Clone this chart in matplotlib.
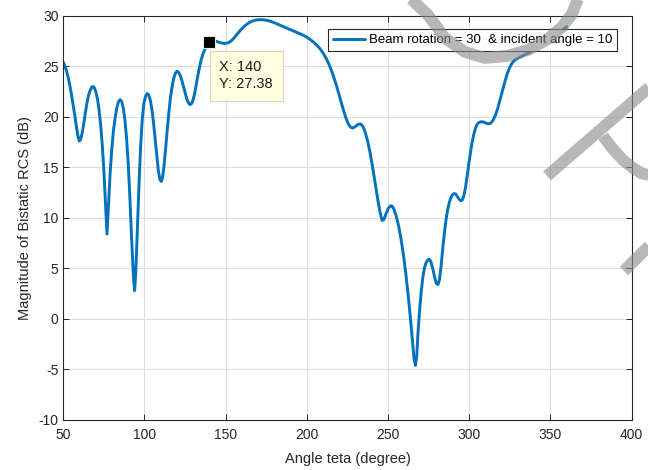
import numpy as np
import matplotlib
matplotlib.use("Agg")
import matplotlib.pyplot as plt
from matplotlib.lines import Line2D

# bistatic RCS (angle in degrees, magnitude in dB)
angle = [50, 51, 52, 53, 54, 55, 56, 57, 58, 59, 59.8, 60.5, 61.5, 62.5, 63.5, 64.5, 65.5, 66.5,
         67.5, 68.3, 69, 70, 71, 72, 73, 74, 75, 76, 76.9, 77.8, 78.8, 79.8, 80.8, 82, 83, 84,
         85, 86, 87, 88, 89, 90, 91, 92, 93.2, 93.9, 94.6, 95.6, 96.6, 97.6, 98.6, 99.6, 100.6,
         101.6, 102.5, 103.5, 104.5, 105.5, 106.5, 107.5, 108.5, 109.5, 110.3, 111, 112, 113,
         114, 115, 116, 117, 118, 119, 120, 121, 122, 123, 124, 125, 126, 127, 128, 129, 130,
         131, 132, 133, 134, 135, 136, 137, 138, 139, 140, 141, 142, 143, 144, 145, 146, 147,
         148, 149, 150, 151, 152, 153, 154, 155, 156, 157, 158, 160, 162, 164, 166, 168, 170,
         172, 174, 176, 178, 180, 182, 184, 186, 188, 190, 192, 194, 196, 198, 200, 202, 204,
         206, 208, 210, 212, 214, 216, 218, 220, 222, 224, 225.5, 227, 228.5, 230, 231.5, 233,
         234.5, 236, 237.5, 239, 240.5, 242, 243.5, 245, 246.3, 247.3, 248.5, 250, 251.5,
         252.5, 253.5, 255, 256.5, 258, 259.5, 261, 262.5, 264, 265.2, 266, 266.9, 267.7,
         268.5, 269.5, 270.5, 271.5, 272.5, 273.5, 274.5, 275.3, 276.3, 277.5, 278.7, 279.8,
         280.8, 281.7, 282.7, 283.7, 284.7, 285.7, 286.7, 287.7, 288.7, 289.7, 290.7, 291.7,
         292.7, 293.7, 294.7, 295.7, 296.7, 297.7, 298.7, 299.7, 300.7, 301.7, 302.7, 303.7,
         304.7, 305.7, 307, 308.5, 310, 311.5, 313, 314.5, 316, 317.5, 319, 320.5, 322, 323.5,
         325, 326.5, 328, 330, 332, 335, 338, 341, 344, 347, 350, 353, 356, 358, 360]
rcs = [25.4, 25.0, 24.5, 23.9, 23.1, 22.2, 21.2, 20.2, 19.1, 18.1, 17.6, 17.7, 18.3, 19.2, 20.3,
       21.3, 22.1, 22.6, 22.95, 23.0, 22.9, 22.5, 21.8, 20.7, 19.2, 17.2, 14.6, 11.4, 8.4, 11.2,
       14.3, 16.7, 18.5, 20.0, 20.9, 21.5, 21.7, 21.5, 20.8, 19.6, 17.8, 15.3, 12.0, 8.2, 4.2,
       2.8, 4.5, 8.8, 13.2, 17.0, 19.7, 21.3, 22.0, 22.3, 22.2, 21.7, 20.8, 19.5, 17.9, 16.2,
       14.7, 13.8, 13.6, 13.9, 15.1, 16.8, 18.7, 20.4, 21.9, 23.0, 23.8, 24.3, 24.5, 24.4, 24.1,
       23.6, 23.0, 22.4, 21.8, 21.4, 21.2, 21.3, 21.7, 22.4, 23.3, 24.2, 25.0, 25.7, 26.2, 26.6,
       26.95, 27.2, 27.38, 27.48, 27.52, 27.52, 27.48, 27.42, 27.36, 27.31, 27.28, 27.26, 27.26,
       27.29, 27.36, 27.46, 27.6, 27.77, 27.96, 28.16, 28.36, 28.72, 29.03, 29.27, 29.44, 29.55,
       29.6, 29.61, 29.58, 29.51, 29.42, 29.3, 29.16, 29.01, 28.87, 28.73, 28.6, 28.47, 28.34,
       28.2, 28.05, 27.87, 27.65, 27.4, 27.1, 26.75, 26.3, 25.75, 25.05, 24.2, 23.2, 22.1, 20.95,
       19.9, 19.3, 18.95, 18.9, 19.05, 19.25, 19.3, 19.05, 18.45, 17.55, 16.4, 15.0, 13.5, 12.0,
       10.6, 9.75, 9.8, 10.3, 10.9, 11.2, 11.15, 10.9, 10.2, 9.2, 7.9, 6.3, 4.4, 2.2, -0.3,
       -2.5, -3.9, -4.6, -3.6, -1.2, 1.0, 2.8, 4.2, 5.1, 5.6, 5.85, 5.9, 5.7, 5.0, 4.1, 3.5,
       3.4, 3.9, 5.3, 7.0, 8.5, 9.8, 10.8, 11.5, 12.0, 12.3, 12.4, 12.35, 12.1, 11.85, 11.7,
       11.75, 12.2, 13.0, 14.1, 15.3, 16.4, 17.4, 18.2, 18.8, 19.2, 19.4, 19.5, 19.5, 19.4,
       19.3, 19.35, 19.6, 20.1, 20.8, 21.7, 22.6, 23.5, 24.3, 24.9, 25.35, 25.6, 25.8, 25.95,
       26.2, 26.45, 26.75, 27.05, 27.35, 27.7, 28.05, 28.4, 28.65, 28.9]

tip_x, tip_y = 140, 27.38
label = "Beam rotation = 30  & incident angle = 10"

plt.rcParams['font.family'] = ['Liberation Sans', 'DejaVu Sans']
plt.rcParams['font.size'] = 10
plt.rcParams['axes.unicode_minus'] = False

fig = plt.figure(figsize=(6.48, 4.70), dpi=100)
ax = fig.add_axes([0.0977, 0.1064, 0.877, 0.8602])

ax.plot(angle, rcs, color='#0072BD', lw=2.1, label=label,
        solid_capstyle='round', solid_joinstyle='round')

ax.set_xlim(50, 400)
ax.set_ylim(-10, 30)
ax.set_xticks(np.arange(50, 401, 50))
ax.set_yticks(np.arange(-10, 31, 5))
ax.grid(True, color='#dcdcdc', lw=0.7)
ax.set_axisbelow(True)
ax.tick_params(direction='in', top=True, right=True, length=4, width=0.7,
               colors='#262626', labelsize=10)
ax.tick_params(axis='x', pad=6)
for s in ax.spines.values():
    s.set_color('#262626')
    s.set_linewidth(0.8)
ax.set_xlabel('Angle teta (degree)', fontsize=10.5, color='#262626', labelpad=7)
ax.set_ylabel('Magnitude of Bistatic RCS (dB)', fontsize=10.5, color='#262626', labelpad=5)

leg = ax.legend(loc='upper right', bbox_to_anchor=(0.975, 0.968), fancybox=False,
                framealpha=1, edgecolor='#262626', fontsize=9.5, handlelength=2.4,
                borderpad=0.4, handletextpad=0.3, borderaxespad=0)
leg.get_frame().set_linewidth(0.8)

# data tip
ax.plot([tip_x], [tip_y], marker='s', ms=8, color='black', mec='#e8e8c8', mew=0.8, zorder=5)
ax.annotate("X: %d\nY: %.2f" % (tip_x, tip_y), xy=(tip_x, tip_y), xytext=(10, -18),
            textcoords='offset pixels', ha='left', va='top', fontsize=10.5,
            color='#1a1a1a', linespacing=1.3, zorder=6,
            bbox=dict(boxstyle='square,pad=0.65', fc='#ffffe1', ec='#d6d6c2', lw=0.8))

# watermark strokes (pixel coords of the 648x470 image)
def px(xs, ys):
    return [x / 648 for x in xs], [1 - y / 470 for y in ys]

wm = dict(color='#8c8c8c', alpha=0.62, lw=8.5, solid_capstyle='butt',
          solid_joinstyle='round', transform=fig.transFigure, zorder=10)
fig.add_artist(Line2D(*px([408, 428, 445, 465, 485, 507, 528, 548, 562, 572, 579],
                          [-4, 15, 38, 52, 58, 56, 50, 39, 27, 14, -4]), **wm))
fig.add_artist(Line2D(*px([547, 652], [176, 85]), **wm))
fig.add_artist(Line2D(*px([603, 612, 623, 633, 641, 652], [136, 148, 160, 168, 173, 176]), **wm))
fig.add_artist(Line2D(*px([624, 652], [271, 243]), **wm))

fig.savefig('out.png', dpi=100)
